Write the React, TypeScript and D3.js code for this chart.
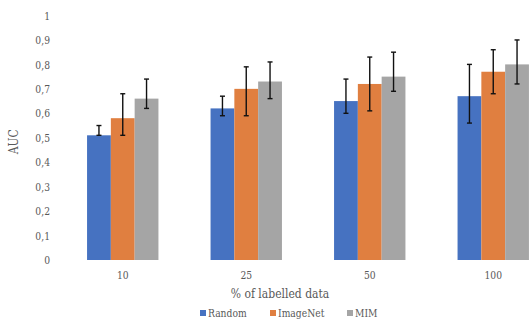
import React from 'react';
import { scaleBand, scaleLinear } from 'd3';

const categories = ['10', '25', '50', '100'];
const series = ['Random', 'ImageNet', 'MIM'];
const colors = ['#4672C1', '#E07F40', '#A5A5A5'];

const randomVals = [0.51, 0.62, 0.65, 0.67];
const imagenetVals = [0.58, 0.70, 0.72, 0.77];
const mimVals = [0.66, 0.73, 0.75, 0.80];

// error bar ranges [low, high]
const randomErr = [[0.51, 0.55], [0.59, 0.67], [0.60, 0.74], [0.56, 0.80]];
const imagenetErr = [[0.51, 0.68], [0.59, 0.79], [0.61, 0.83], [0.68, 0.86]];
const mimErr = [[0.62, 0.74], [0.66, 0.81], [0.69, 0.85], [0.72, 0.90]];

const yTicks = [0, 0.1, 0.2, 0.3, 0.4, 0.5, 0.6, 0.7, 0.8, 0.9, 1];

const values = [randomVals, imagenetVals, mimVals];
const errors = [randomErr, imagenetErr, mimErr];

const font = "'DejaVu Serif', 'Liberation Serif', serif";
const textColor = '#595959';

// DejaVu Serif is wider than Times, squeeze it horizontally
function Label({ x, y, size, anchor = 'start', rotate = 0, sx = 0.8, dy, children }: any) {
  return (
    <text
      transform={`translate(${x},${y}) rotate(${rotate}) scale(${sx},1)`}
      textAnchor={anchor}
      dy={dy}
      fontFamily={font}
      fontSize={size}
      fill={textColor}
    >
      {children}
    </text>
  );
}

export default function App() {
  const width = 529;
  const height = 320;
  const left = 61;
  const right = 555;
  const top = 15.5;
  const bottom = 260;

  const x = scaleBand().domain(categories).range([left, right]).paddingInner(0).paddingOuter(0);
  const inner = scaleBand().domain(series).range([0, x.bandwidth()]).paddingOuter(1.095).paddingInner(0);
  const y = scaleLinear().domain([0, 1]).range([bottom, top]);

  return (
    <svg width={width} height={height} style={{ position: 'absolute', left: 0, top: 0 }}>
      <rect width={width} height={height} fill="#fff" />
      {yTicks.map(t => (
        <Label key={t} x={50} y={y(t)} dy="0.36em" anchor="end" size={11.5}>
          {String(+t.toFixed(1)).replace('.', ',')}
        </Label>
      ))}
      {categories.map((c, i) => (
        <g key={c}>
          {series.map((s, k) => {
            const bx = (x(c) ?? 0) + (inner(s) ?? 0);
            const bw = inner.bandwidth();
            const v = values[k][i];
            const [lo, hi] = errors[k][i];
            const cx = bx + bw / 2;
            return (
              <g key={s}>
                <rect x={bx} y={y(v)} width={bw} height={y(0) - y(v)} fill={colors[k]} />
                <line x1={cx} x2={cx} y1={y(lo)} y2={y(hi)} stroke="#111" strokeWidth={1.4} />
                <line x1={cx - 2.5} x2={cx + 2.5} y1={y(lo)} y2={y(lo)} stroke="#111" strokeWidth={1.4} />
                <line x1={cx - 2.5} x2={cx + 2.5} y1={y(hi)} y2={y(hi)} stroke="#111" strokeWidth={1.4} />
              </g>
            );
          })}
          <Label x={(x(c) ?? 0) + x.bandwidth() / 2} y={278.5} anchor="middle" size={11.5}>
            {c}
          </Label>
        </g>
      ))}
      <Label x={18} y={(top + bottom) / 2 + 4} rotate={-90} anchor="middle" size={13.5}>
        AUC
      </Label>
      <Label x={280} y={297.5} anchor="middle" size={13.5}>
        % of labelled data
      </Label>
      {series.map((s, k) => {
        const lx = [200, 270, 347][k];
        return (
          <g key={s}>
            <rect x={lx} y={310} width={6} height={6} fill={colors[k]} />
            <Label x={lx + 8} y={317} size={11.5}>{s}</Label>
          </g>
        );
      })}
    </svg>
  );
}
